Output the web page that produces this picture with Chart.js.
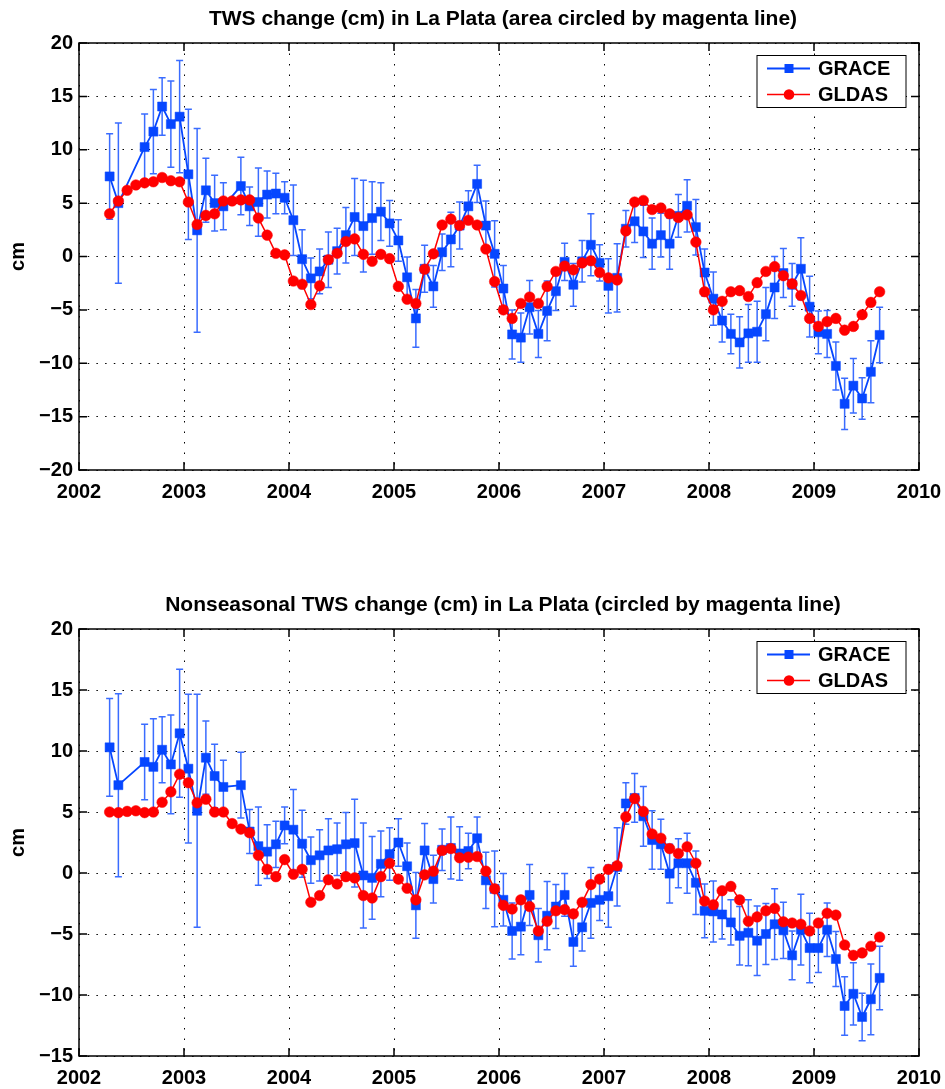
<!DOCTYPE html>
<html>
<head>
<meta charset="utf-8">
<script src="https://cdn.jsdelivr.net/npm/chart.js@4.4.1/dist/chart.umd.min.js"></script>
<style>
  html, body { margin: 0; padding: 0; background: #fff; }
  #wrap { position: relative; width: 945px; height: 1089px; }
  canvas { position: absolute; left: 0; }
  #topChart { top: 0; }
  #bottomChart { top: 586px; }
</style>
</head>
<body>
<div id="wrap">
  <canvas id="topChart" width="945" height="586"></canvas>
  <canvas id="bottomChart" width="945" height="503"></canvas>
</div>
<script>
// monthly samples, Apr 2002 - Aug 2009
const months = [
  "2002-04", "2002-05", "2002-06", "2002-07", "2002-08", "2002-09", "2002-10", "2002-11", "2002-12",
  "2003-01", "2003-02", "2003-03", "2003-04", "2003-05", "2003-06", "2003-07", "2003-08", "2003-09", "2003-10", "2003-11", "2003-12",
  "2004-01", "2004-02", "2004-03", "2004-04", "2004-05", "2004-06", "2004-07", "2004-08", "2004-09", "2004-10", "2004-11", "2004-12",
  "2005-01", "2005-02", "2005-03", "2005-04", "2005-05", "2005-06", "2005-07", "2005-08", "2005-09", "2005-10", "2005-11", "2005-12",
  "2006-01", "2006-02", "2006-03", "2006-04", "2006-05", "2006-06", "2006-07", "2006-08", "2006-09", "2006-10", "2006-11", "2006-12",
  "2007-01", "2007-02", "2007-03", "2007-04", "2007-05", "2007-06", "2007-07", "2007-08", "2007-09", "2007-10", "2007-11", "2007-12",
  "2008-01", "2008-02", "2008-03", "2008-04", "2008-05", "2008-06", "2008-07", "2008-08", "2008-09", "2008-10", "2008-11", "2008-12",
  "2009-01", "2009-02", "2009-03", "2009-04", "2009-05", "2009-06", "2009-07", "2009-08"
];

// TWS change (cm)
const graceTws = [
  7.5, 5.0, null, null, 10.25, 11.7, 14.05, 12.4, 13.1,
  7.7, 2.45, 6.2, 5.0, 4.7, null, 6.6, 4.7, 5.1, 5.8, 5.9, 5.5,
  3.4, -0.25, -2.05, -1.4, -0.3, 0.5, 2.0, 3.7, 2.85, 3.6, 4.2, 3.1,
  1.5, -1.95, -5.8, -1.15, -2.8, 0.4, 1.6, 2.9, 4.7, 6.8, 2.9, 0.25,
  -3.0, -7.3, -7.6, -4.75, -7.25, -5.1, -3.25, -0.5, -2.65, -0.45, 1.1, -0.6,
  -2.75, -2.0, 2.6, 3.3, 2.35, 1.2, 2.0, 1.2, 3.8, 4.75, 2.75, -1.5,
  -3.95, -6.0, -7.25, -8.05, -7.2, -7.05, -5.4, -2.9, -1.55, -2.65, -1.15, -4.7,
  -7.1, -7.25, -10.25, -13.8, -12.1, -13.3, -10.8, -7.35
];
const gldasTws = [
  4.0, 5.2, 6.2, 6.7, 6.9, 7.0, 7.4, 7.1, 7.0,
  5.1, 3.0, 3.85, 4.0, 5.2, 5.2, 5.3, 5.3, 3.6, 2.0, 0.3, 0.15,
  -2.3, -2.6, -4.5, -2.75, -0.3, 0.3, 1.4, 1.65, 0.2, -0.45, 0.2, -0.2,
  -2.8, -4.0, -4.4, -1.2, 0.25, 2.95, 3.5, 2.9, 3.4, 2.95, 0.7, -2.35,
  -5.0, -5.8, -4.4, -3.8, -4.4, -2.8, -1.4, -0.9, -1.25, -0.6, -0.4, -1.5,
  -2.0, -2.2, 2.4, 5.1, 5.25, 4.4, 4.55, 4.0, 3.65, 3.9, 1.35, -3.3,
  -5.0, -4.2, -3.3, -3.2, -3.75, -2.45, -1.4, -0.95, -1.8, -2.55, -3.65, -5.8,
  -6.55, -6.1, -5.8, -6.9, -6.55, -5.45, -4.3, -3.3
];

// nonseasonal TWS change (cm)
const graceNonseasonal = [
  10.3, 7.2, null, null, 9.1, 8.7, 10.1, 8.9, 11.45,
  8.55, 5.1, 9.45, 7.95, 7.05, null, 7.2, 3.4, 2.2, 1.75, 2.35, 3.9,
  3.55, 2.4, 1.05, 1.45, 1.85, 1.95, 2.35, 2.45, -0.2, -0.4, 0.75, 1.55,
  2.5, 0.55, -2.65, 1.85, -0.5, 1.9, 2.05, 1.6, 1.8, 2.85, -0.6, -1.3,
  -2.2, -4.75, -4.4, -1.8, -5.1, -3.5, -2.75, -1.8, -5.65, -4.45, -2.45, -2.2,
  -1.9, 0.5, 5.7, 6.15, 4.65, 2.7, 2.35, -0.05, 0.8, 0.8, -0.8, -3.1,
  -3.15, -3.4, -4.05, -5.15, -4.9, -5.55, -5.0, -4.2, -4.7, -6.75, -4.65, -6.15,
  -6.15, -4.65, -7.05, -10.9, -9.9, -11.8, -10.35, -8.6
];
const gldasNonseasonal = [
  5.0, 4.95, 5.05, 5.1, 4.95, 5.0, 5.8, 6.65, 8.1,
  7.4, 5.75, 6.05, 5.0, 5.0, 4.05, 3.6, 3.3, 1.45, 0.3, -0.3, 1.1,
  -0.1, 0.3, -2.4, -1.85, -0.55, -0.9, -0.3, -0.4, -1.85, -2.05, -0.3, 0.8,
  -0.5, -1.25, -2.2, -0.15, 0.15, 1.85, 2.0, 1.25, 1.3, 1.35, 0.15, -1.3,
  -2.65, -2.95, -2.2, -2.75, -4.75, -3.95, -3.1, -3.0, -3.35, -2.4, -0.95, -0.5,
  0.3, 0.6, 4.6, 6.1, 5.05, 3.2, 2.85, 2.0, 1.6, 2.15, 0.8, -2.3,
  -2.6, -1.45, -1.1, -2.2, -3.95, -3.6, -3.1, -2.9, -4.0, -4.1, -4.2, -4.75,
  -4.1, -3.3, -3.45, -5.9, -6.75, -6.55, -6.0, -5.25
];

// GRACE error bar half-length (cm), same for both panels
const graceErr = [
  4.0, 7.5, null, null, 3.1, 3.95, 2.7, 4.05, 5.25,
  6.1, 9.55, 3.0, 2.6, 2.2, null, 2.7, 1.8, 3.2, 2.2, 1.9, 1.5,
  3.3, 2.75, 1.9, 2.1, 2.6, 2.15, 2.6, 3.6, 4.3, 3.4, 2.7, 2.15,
  1.95, 1.9, 2.7, 2.2, 1.95, 1.7, 2.55, 2.2, 1.45, 1.75, 2.3, 3.1,
  2.15, 2.3, 2.3, 2.5, 2.2, 2.8, 1.8, 1.75, 2.0, 1.95, 2.9, 1.7,
  2.55, 3.2, 1.7, 2.0, 2.45, 2.4, 2.05, 2.4, 2.0, 2.45, 2.6, 2.2,
  2.5, 2.0, 1.85, 2.4, 2.7, 2.85, 2.5, 2.9, 2.3, 2.0, 2.9, 2.85,
  2.0, 2.2, 2.25, 2.4, 2.55, 1.95, 2.9, 2.6
];

const xTicks = [2002, 2003, 2004, 2005, 2006, 2007, 2008, 2009, 2010];
const seriesNames = ["GRACE", "GLDAS"];

const FONT = "Liberation Sans";
const BLUE = "#0646ff";
const BLUE_ERR = "#3a6cff";
const RED = "#ff0000";

// "2003-07" -> 2003.54 (middle of month)
const toYear = (m) => {
    const [y, mo] = m.split("-").map(Number);
    return y + (mo - 0.5) / 12;
};
const times = months.map(toYear);
const pts = (vals) => vals.map((v, i) => ({ x: times[i], y: v }));
const fmt = (v) => (v < 0 ? "\u2212" + Math.abs(v) : String(v));

// MATLAB look: box, inward ticks, title, errorbars, legend
const matlabPlugin = {
    id: "matlab",
    beforeDatasetsDraw(chart) {
        const { ctx, scales: { x, y } } = chart;
        chart.data.datasets.forEach((ds) => {
            if (!ds.errors) return;
            ctx.save();
            ctx.strokeStyle = BLUE_ERR;
            ctx.lineWidth = 1.5;
            ds.data.forEach((p, i) => {
                const e = ds.errors[i];
                if (p.y == null || e == null) return;
                const px = x.getPixelForValue(p.x);
                const y1 = y.getPixelForValue(p.y + e);
                const y2 = y.getPixelForValue(p.y - e);
                ctx.beginPath();
                ctx.moveTo(px, y1); ctx.lineTo(px, y2);
                ctx.moveTo(px - 3.5, y1); ctx.lineTo(px + 3.5, y1);
                ctx.moveTo(px - 3.5, y2); ctx.lineTo(px + 3.5, y2);
                ctx.stroke();
            });
            ctx.restore();
        });
    },
    afterDraw(chart, args, opts) {
        const { ctx, chartArea: a, scales: { x, y } } = chart;
        ctx.save();
        // box + inward ticks
        ctx.strokeStyle = "#000";
        ctx.lineWidth = 1.5;
        ctx.strokeRect(a.left, a.top, a.right - a.left, a.bottom - a.top);
        ctx.beginPath();
        y.ticks.forEach((t) => {
            const py = y.getPixelForValue(t.value);
            ctx.moveTo(a.left, py); ctx.lineTo(a.left + 8, py);
            ctx.moveTo(a.right, py); ctx.lineTo(a.right - 8, py);
        });
        x.ticks.forEach((t) => {
            const px = x.getPixelForValue(t.value);
            ctx.moveTo(px, a.bottom); ctx.lineTo(px, a.bottom - 8);
            ctx.moveTo(px, a.top); ctx.lineTo(px, a.top + 8);
        });
        ctx.stroke();

        // title
        ctx.fillStyle = "#000";
        ctx.font = "bold 21px '" + FONT + "'";
        ctx.textAlign = "center";
        ctx.textBaseline = "alphabetic";
        ctx.fillText(opts.text, (a.left + a.right) / 2 + 4, 25);

        // legend
        const bw = 149, bh = 52;
        const bx = a.right - 13 - bw, by = a.top + 12.5;
        ctx.fillStyle = "#fff";
        ctx.fillRect(bx, by, bw, bh);
        ctx.lineWidth = 1;
        ctx.strokeRect(bx, by, bw, bh);
        chart.data.datasets.forEach((ds, i) => {
            const ry = by + 13 + i * 26;
            ctx.strokeStyle = ds.borderColor;
            ctx.lineWidth = ds.borderWidth;
            ctx.beginPath();
            ctx.moveTo(bx + 10, ry); ctx.lineTo(bx + 53, ry);
            ctx.stroke();
            ctx.fillStyle = ds.pointBackgroundColor;
            ctx.beginPath();
            if (ds.pointStyle === "rect") {
                ctx.rect(bx + 32 - 4.5, ry - 4.5, 9, 9);
            } else {
                ctx.arc(bx + 32, ry, 5.3, 0, Math.PI * 2);
            }
            ctx.fill();
            ctx.fillStyle = "#000";
            ctx.font = "bold 20px '" + FONT + "'";
            ctx.textAlign = "left";
            ctx.textBaseline = "middle";
            ctx.fillText(ds.label, bx + 61, ry + 1);
        });
        ctx.restore();
    }
};

function makeChart(id, title, grace, gldas, yMin, yMax) {
    const canvas = document.getElementById(id);
    const H = canvas.height;
    return new Chart(canvas.getContext("2d"), {
        type: "line",
        data: {
            datasets: [
                {
                    label: seriesNames[0],
                    data: pts(grace),
                    errors: graceErr,
                    borderColor: BLUE,
                    borderWidth: 1.8,
                    pointStyle: "rect",
                    pointRadius: 6.4,
                    pointBackgroundColor: BLUE,
                    pointBorderColor: BLUE,
                    pointBorderWidth: 0.5,
                    spanGaps: true,
                    tension: 0,
                    order: 1
                },
                {
                    label: seriesNames[1],
                    data: pts(gldas),
                    borderColor: RED,
                    borderWidth: 1.5,
                    pointStyle: "circle",
                    pointRadius: 5.3,
                    pointBackgroundColor: RED,
                    pointBorderColor: RED,
                    pointBorderWidth: 0.5,
                    tension: 0,
                    order: 0
                }
            ]
        },
        options: {
            responsive: false,
            animation: false,
            layout: { padding: { top: 43, left: 0, right: 26, bottom: 0 } },
            plugins: {
                legend: { display: false },
                tooltip: { enabled: false },
                matlab: { text: title }
            },
            scales: {
                x: {
                    type: "linear",
                    min: xTicks[0],
                    max: xTicks[xTicks.length - 1],
                    afterBuildTicks: (s) => { s.ticks = xTicks.map((v) => ({ value: v })); },
                    afterFit: (s) => {
                        s.height = H - 43 - 427;
                        s.paddingLeft = 0;
                        s.paddingRight = 0;
                    },
                    grid: { color: "#000", lineWidth: 1, drawTicks: false },
                    border: { display: false, dash: [1.5, 9] },
                    ticks: {
                        color: "#000",
                        padding: 10,
                        maxRotation: 0,
                        autoSkip: false,
                        font: { family: FONT, size: 20, weight: "bold" },
                        callback: (v) => String(v)
                    }
                },
                y: {
                    min: yMin,
                    max: yMax,
                    afterFit: (s) => { s.width = 79; },
                    grid: { color: "#000", lineWidth: 1, drawTicks: false },
                    border: { display: false, dash: [1.5, 7.2] },
                    title: {
                        display: true,
                        text: "cm",
                        color: "#000",
                        padding: { top: 6, bottom: 0 },
                        font: { family: FONT, size: 20, weight: "bold" }
                    },
                    ticks: {
                        color: "#000",
                        padding: 6,
                        stepSize: 5,
                        font: { family: FONT, size: 20, weight: "bold" },
                        callback: fmt
                    }
                }
            }
        },
        plugins: [matlabPlugin]
    });
}

makeChart("topChart", "TWS change (cm) in La Plata (area circled by magenta line)",
    graceTws, gldasTws, -20, 20);
makeChart("bottomChart", "Nonseasonal TWS change (cm) in La Plata (circled by magenta line)",
    graceNonseasonal, gldasNonseasonal, -15, 20);
</script>
</body>
</html>
